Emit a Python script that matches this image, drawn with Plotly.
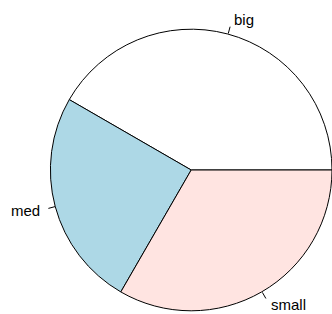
import math
import plotly.graph_objects as go

labels = ["big", "med", "small"]
values = [5, 3, 4]
colors = ["#FFFFFF", "#ADD8E6", "#FFE4E1"]

W, H = 332, 314
cx, cy, r = 191.7, 170.0, 141.3  # pixel geometry of pie

def px2paper(x, y):
    return x / W, 1 - y / H

dom_x = [(cx - r) / W, min(1.0, (cx + r) / W)]
dom_y = [1 - (cy + r) / H, 1 - (cy - r) / H]

total = sum(values)
# plotly places the first slice (counterclockwise) ending at `rotation`; start it at 3 o'clock
rot = 90 - 360 * values[0] / total

fig = go.Figure(go.Pie(
    labels=labels, values=values, sort=False, direction="counterclockwise",
    rotation=rot, marker=dict(colors=colors, line=dict(color="black", width=1)),
    textinfo="none", hoverinfo="label+value", showlegend=False,
    domain=dict(x=dom_x, y=dom_y),
))

cum = 0
shapes, annots = [], []
for lab, v in zip(labels, values):
    mid = 2 * math.pi * (cum + v / 2) / total
    cum += v
    c, s = math.cos(mid), math.sin(mid)
    x0, y0 = px2paper(cx + r * c, cy - r * s)
    x1, y1 = px2paper(cx + 1.05 * r * c, cy - 1.05 * r * s)
    shapes.append(dict(type="line", xref="paper", yref="paper", x0=x0, y0=y0, x1=x1, y1=y1,
                       line=dict(color="black", width=1)))
    tx, ty = px2paper(cx + 1.1 * r * c, cy - 1.1 * r * s)
    annots.append(dict(x=tx, y=ty, xref="paper", yref="paper", text=lab, showarrow=False,
                       xanchor="left" if c > 0 else "right", yanchor="middle",
                       font=dict(family="Liberation Sans, Arial, sans-serif", size=15, color="black")))

fig.update_layout(width=W, height=H, margin=dict(l=0, r=0, t=0, b=0),
                  paper_bgcolor="white", plot_bgcolor="white",
                  shapes=shapes, annotations=annots)
fig.write_html("out.html", config={"displayModeBar": False},
               post_script="document.body.style.margin='0';")
